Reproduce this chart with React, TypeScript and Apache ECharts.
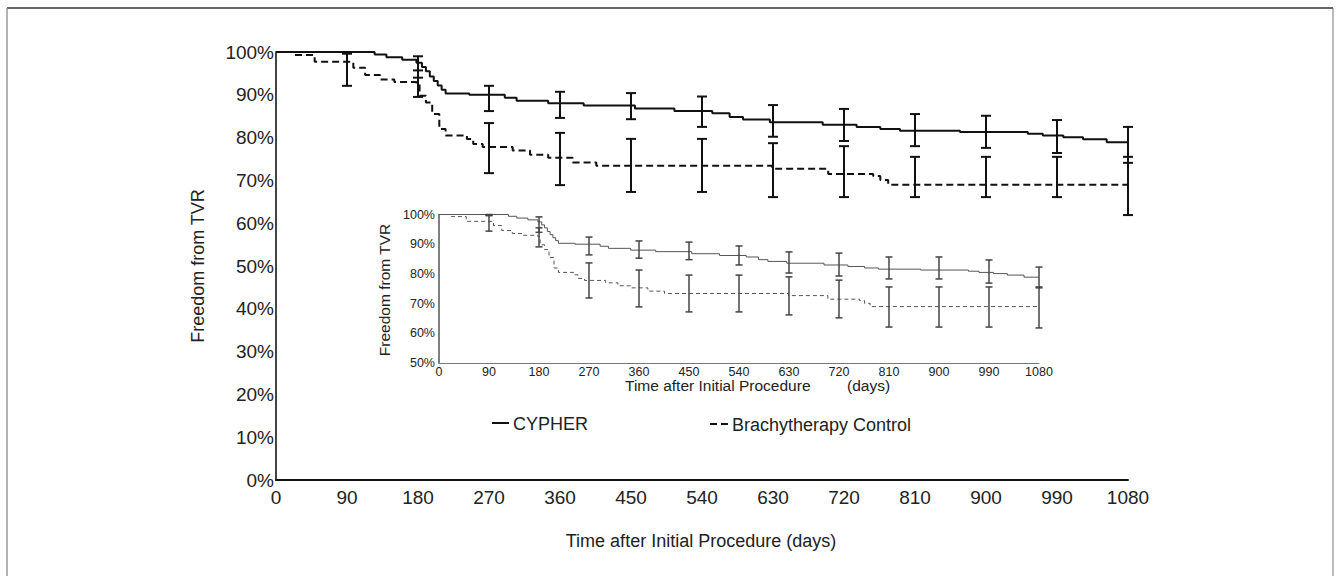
import { useEffect, useRef } from 'react';
import * as echarts from 'echarts';

const FONT = '"Liberation Sans", Arial, Helvetica, sans-serif';

// Kaplan–Meier steps (day, % free from TVR)
const cypherDays = [0, 125, 140, 160, 178, 185, 190, 195, 200, 205, 210, 215, 245, 290, 305, 345, 390, 455, 505, 553, 575, 592, 626, 693, 736, 766, 791, 867, 953, 972, 998, 1023, 1053, 1080];
const cypherSurv = [100, 99.4, 98.8, 98.2, 97.5, 96.5, 95.5, 94.3, 93.2, 92.2, 91.2, 90.3, 90.0, 89.3, 88.6, 88.0, 87.5, 86.8, 86.2, 85.7, 84.8, 84.2, 83.6, 83.0, 82.5, 82.0, 81.6, 81.3, 80.9, 80.5, 80.1, 79.6, 78.9, 78.9];
const brachyDays = [0, 22, 49, 98, 113, 132, 150, 178, 182, 190, 198, 207, 215, 242, 250, 262, 300, 322, 345, 376, 406, 629, 700, 757, 766, 776, 1080];
const brachySurv = [100, 99.3, 97.7, 96.3, 94.6, 93.6, 93.0, 92.6, 89.8, 88.2, 85.5, 82.0, 80.5, 79.7, 78.5, 77.8, 77.0, 76.0, 75.3, 74.2, 73.4, 72.7, 71.5, 71.0, 70.1, 69.0, 69.0];

// 95% confidence bars every 90 days
const errDays = [90, 180, 270, 360, 450, 540, 630, 720, 810, 900, 990, 1080];
const cypherLow = [99.6, 94.0, 86.2, 84.6, 84.3, 82.5, 80.2, 79.2, 78.0, 77.6, 76.4, 74.1];
const cypherHigh = [100, 99.0, 92.1, 90.7, 90.4, 89.6, 87.6, 86.7, 85.5, 85.1, 84.1, 82.5];
const brachyLow = [92.1, 89.5, 71.7, 68.9, 67.3, 67.3, 66.1, 66.1, 66.1, 66.1, 66.1, 61.9];
const brachyHigh = [99.8, 95.7, 83.4, 81.1, 79.7, 79.7, 78.7, 78.0, 75.5, 75.5, 75.5, 75.5];

// inset's confidence bars
const insetCypherLow = [99.6, 94.0, 86.4, 85.3, 84.8, 83.0, 80.3, 79.3, 78.3, 78.3, 76.9, 75.3];
const insetCypherHigh = [100, 99.2, 92.4, 91.1, 90.7, 89.4, 87.4, 87.0, 85.7, 85.7, 84.7, 82.3];
const insetBrachyLow = [94.4, 89.1, 71.9, 68.9, 67.2, 67.2, 66.2, 65.2, 62.1, 62.1, 62.1, 61.8];
const insetBrachyHigh = [99.8, 95.5, 83.7, 81.3, 79.6, 79.6, 79.0, 77.9, 75.6, 75.6, 75.6, 75.6];

const seriesNames = ['CYPHER', 'Brachytherapy Control'];
const mainYLabels = { min: 0, max: 100, interval: 10 };
const insetYLabels = { min: 50, max: 100, interval: 10 };
const xRange = { min: 0, max: 1080, interval: 90 };

const pairs = (xs: number[], ys: number[]) => xs.map((x, i) => [x, ys[i]]);
const bars = (lo: number[], hi: number[]) => errDays.map((d, i) => [d, lo[i], hi[i]]);

function errRender(cap: number, color: string, lw: number) {
  return (params: any, api: any) => {
    const x = api.value(0);
    const p1 = api.coord([x, api.value(1)]);
    const p2 = api.coord([x, api.value(2)]);
    const style = { stroke: color, lineWidth: lw };
    return {
      type: 'group',
      children: [
        { type: 'line', shape: { x1: p1[0], y1: p1[1], x2: p2[0], y2: p2[1] }, style },
        { type: 'line', shape: { x1: p1[0] - cap / 2, y1: p1[1], x2: p1[0] + cap / 2, y2: p1[1] }, style },
        { type: 'line', shape: { x1: p2[0] - cap / 2, y1: p2[1], x2: p2[0] + cap / 2, y2: p2[1] }, style },
      ],
    };
  };
}

export default function App() {
  const ref = useRef<HTMLDivElement>(null);
  useEffect(() => {
    if (!ref.current) return;
    const chart = echarts.init(ref.current, undefined, { renderer: 'svg' });
    const axisText = (size: number) => ({ fontSize: size, color: '#222', fontFamily: FONT });
    const plain = (v: number) => String(v);
    const pct = (v: number) => `${v}%`;
    const option: any = {
      animation: false,
      backgroundColor: '#fff',
      grid: [
        { left: 276, top: 52, width: 852, height: 428 },
        { left: 439, top: 214.5, width: 600, height: 148.5 },
      ],
      xAxis: [
        {
          gridIndex: 0, type: 'value', ...xRange,
          axisLine: { onZero: false, lineStyle: { color: '#111', width: 2 } },
          axisTick: { show: false }, splitLine: { show: false },
          axisLabel: { ...axisText(19), margin: 8, formatter: plain },
        },
        {
          gridIndex: 1, type: 'value', ...xRange,
          axisLine: { onZero: false, lineStyle: { color: '#777', width: 1 } },
          axisTick: { show: false }, splitLine: { show: false },
          axisLabel: { ...axisText(12.5), margin: 2, formatter: plain },
        },
      ],
      yAxis: [
        {
          gridIndex: 0, type: 'value', ...mainYLabels,
          axisLine: { show: true, onZero: false, lineStyle: { color: '#444', width: 2 } },
          axisTick: { show: false }, splitLine: { show: false },
          axisLabel: { ...axisText(19), margin: 2, formatter: pct },
        },
        {
          gridIndex: 1, type: 'value', ...insetYLabels,
          axisLine: { show: true, onZero: false, lineStyle: { color: '#555', width: 1.5 } },
          axisTick: { show: false }, splitLine: { show: false },
          axisLabel: { ...axisText(12.5), margin: 4, formatter: pct },
        },
      ],
      series: [
        {
          name: seriesNames[0], type: 'line', step: 'end', showSymbol: false, xAxisIndex: 0, yAxisIndex: 0,
          data: pairs(cypherDays, cypherSurv), lineStyle: { color: '#111', width: 2 }, z: 3,
        },
        {
          name: seriesNames[1], type: 'line', step: 'end', showSymbol: false, xAxisIndex: 0, yAxisIndex: 0,
          data: pairs(brachyDays, brachySurv), lineStyle: { color: '#111', width: 2, type: [7, 4] }, z: 3,
        },
        {
          type: 'custom', xAxisIndex: 0, yAxisIndex: 0, encode: { x: 0, y: [1, 2] },
          data: bars(cypherLow, cypherHigh), renderItem: errRender(10, '#111', 2), z: 4,
        },
        {
          type: 'custom', xAxisIndex: 0, yAxisIndex: 0, encode: { x: 0, y: [1, 2] },
          data: bars(brachyLow, brachyHigh), renderItem: errRender(10, '#111', 2), z: 4,
        },
        {
          name: seriesNames[0] + ' (inset)', type: 'line', step: 'end', showSymbol: false, xAxisIndex: 1, yAxisIndex: 1,
          data: pairs(cypherDays, cypherSurv), lineStyle: { color: '#555', width: 1 }, z: 3,
        },
        {
          name: seriesNames[1] + ' (inset)', type: 'line', step: 'end', showSymbol: false, xAxisIndex: 1, yAxisIndex: 1,
          data: pairs(brachyDays, brachySurv), lineStyle: { color: '#555', width: 1, type: [4, 3] }, z: 3,
        },
        {
          type: 'custom', xAxisIndex: 1, yAxisIndex: 1, encode: { x: 0, y: [1, 2] },
          data: bars(insetCypherLow, insetCypherHigh), renderItem: errRender(7, '#444', 1.5), z: 4,
        },
        {
          type: 'custom', xAxisIndex: 1, yAxisIndex: 1, encode: { x: 0, y: [1, 2] },
          data: bars(insetBrachyLow, insetBrachyHigh), renderItem: errRender(7, '#444', 1.5), z: 4,
        },
      ],
      graphic: [
        // frame
        { type: 'line', shape: { x1: 7, y1: 8, x2: 1333, y2: 8 }, style: { stroke: '#333', lineWidth: 1.5 } },
        { type: 'line', shape: { x1: 7, y1: 8, x2: 7, y2: 576 }, style: { stroke: '#999', lineWidth: 1.5 } },
        { type: 'line', shape: { x1: 1333, y1: 8, x2: 1333, y2: 576 }, style: { stroke: '#777', lineWidth: 1 } },
        // main axis titles
        {
          type: 'text', x: 198, y: 266, rotation: Math.PI / 2,
          style: { text: 'Freedom from TVR', font: `18px ${FONT}`, fill: '#222', textAlign: 'center', align: 'center', textVerticalAlign: 'middle', verticalAlign: 'middle' },
        },
        {
          type: 'text', x: 701, y: 541,
          style: { text: 'Time after Initial Procedure (days)', font: `18px ${FONT}`, fill: '#222', textAlign: 'center', align: 'center', textVerticalAlign: 'middle', verticalAlign: 'middle' },
        },
        // inset axis titles
        {
          type: 'text', x: 384, y: 290, rotation: Math.PI / 2,
          style: { text: 'Freedom from TVR', font: `15.5px ${FONT}`, fill: '#222', textAlign: 'center', align: 'center', textVerticalAlign: 'middle', verticalAlign: 'middle' },
        },
        {
          type: 'text', x: 625, y: 385,
          style: { text: 'Time after Initial Procedure', font: `15.5px ${FONT}`, fill: '#222', textAlign: 'left', align: 'left', textVerticalAlign: 'middle', verticalAlign: 'middle' },
        },
        {
          type: 'text', x: 847, y: 385,
          style: { text: '(days)', font: `15.5px ${FONT}`, fill: '#222', textAlign: 'left', align: 'left', textVerticalAlign: 'middle', verticalAlign: 'middle' },
        },
        // legend
        { type: 'line', shape: { x1: 492, y1: 423, x2: 509, y2: 423 }, style: { stroke: '#111', lineWidth: 2 } },
        {
          type: 'text', x: 513, y: 424,
          style: { text: seriesNames[0], font: `18px ${FONT}`, fill: '#222', textAlign: 'left', align: 'left', textVerticalAlign: 'middle', verticalAlign: 'middle' },
        },
        { type: 'line', shape: { x1: 710, y1: 424, x2: 717, y2: 424 }, style: { stroke: '#111', lineWidth: 2 } },
        { type: 'line', shape: { x1: 721, y1: 424, x2: 728, y2: 424 }, style: { stroke: '#111', lineWidth: 2 } },
        {
          type: 'text', x: 732, y: 425,
          style: { text: seriesNames[1], font: `18px ${FONT}`, fill: '#222', textAlign: 'left', align: 'left', textVerticalAlign: 'middle', verticalAlign: 'middle' },
        },
      ],
    };
    chart.setOption(option);
    return () => chart.dispose();
  }, []);
  return (
    <div
      ref={ref}
      style={{ position: 'fixed', left: 0, top: 0, width: 1340, height: 576, background: '#fff' }}
    />
  );
}
